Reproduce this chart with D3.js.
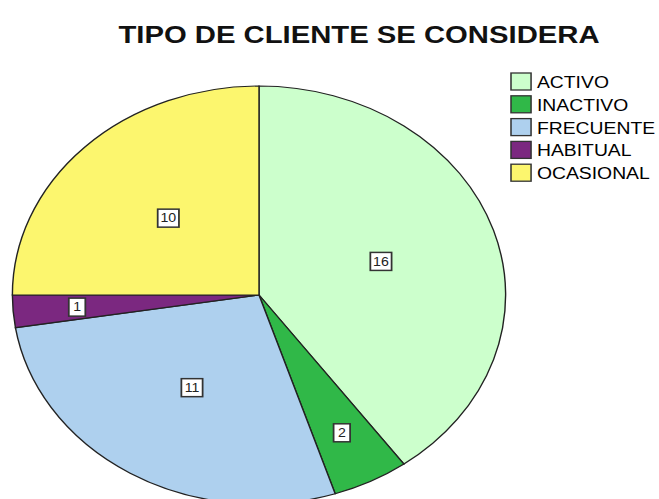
<!DOCTYPE html>
<html>
<head>
<meta charset="utf-8">
<script src="https://cdn.jsdelivr.net/npm/d3@7"></script>
<style>
  body { margin: 0; background: #fff; }
  svg { display: block; font-family: "Liberation Sans", Arial, sans-serif; }
</style>
</head>
<body>
<div id="chart"></div>
<script>
const WIDTH = 659;
const HEIGHT = 499;
// the whole SPSS picture is stretched horizontally
const STRETCH = 1.18;

const categories = ['ACTIVO', 'INACTIVO', 'FRECUENTE', 'HABITUAL', 'OCASIONAL'];
const counts = [16, 2, 11, 1, 10];
const colors = ['#ccffcc', '#30b848', '#aed0ee', '#7b2880', '#fcf66e'];

const data = categories.map((c, i) => ({ key: c, value: counts[i] }));

const svg = d3.select('#chart')
  .append('svg')
  .attr('width', WIDTH)
  .attr('height', HEIGHT);

const root = svg.append('g')
  .attr('transform', `scale(${STRETCH}, 1)`);

root.append('text')
  .attr('x', 359 / STRETCH)
  .attr('y', 43)
  .attr('text-anchor', 'middle')
  .attr('font-size', 24.8)
  .attr('font-weight', 'bold')
  .attr('fill', '#111')
  .text('TIPO DE CLIENTE SE CONSIDERA');

const radius = 209;
const cx = 259 / STRETCH;
const cy = 295;

const pie = d3.pie()
  .value(d => d.value)
  .sort(null);

const arc = d3.arc()
  .innerRadius(0)
  .outerRadius(radius);

const color = d3.scaleOrdinal()
  .domain(categories)
  .range(colors);

const pieGroup = root.append('g')
  .attr('transform', `translate(${cx}, ${cy})`);

const slices = pie(data);

pieGroup.selectAll('path')
  .data(slices)
  .enter()
  .append('path')
  .attr('d', arc)
  .attr('fill', d => color(d.data.key))
  .attr('stroke', '#222')
  .attr('stroke-width', 1.2);

// small slices get their label pushed further out
const labelArc = d => {
  const k = (d.endAngle - d.startAngle) < 0.5 ? 0.74 : 0.52;
  return d3.arc().innerRadius(radius * k).outerRadius(radius * k);
};

const labels = pieGroup.selectAll('g.lbl')
  .data(slices)
  .enter()
  .append('g')
  .attr('class', 'lbl')
  .attr('transform', d => {
    const a = labelArc(d);
    const [x, y] = a.centroid(d);
    return `translate(${x}, ${y})`;
  });

labels.append('rect')
  .attr('x', d => String(d.data.value).length > 1 ? -9 : -7)
  .attr('y', -9)
  .attr('width', d => String(d.data.value).length > 1 ? 18 : 14)
  .attr('height', 18)
  .attr('fill', '#fff')
  .attr('stroke', '#333')
  .attr('stroke-width', 1.5);

labels.append('text')
  .attr('text-anchor', 'middle')
  .attr('dy', '0.36em')
  .attr('font-size', 12)
  .attr('fill', '#222')
  .text(d => d.data.value);

const legend = root.append('g')
  .attr('transform', `translate(${511 / STRETCH}, 73)`);

const legendRows = legend.selectAll('g')
  .data(categories)
  .enter()
  .append('g')
  .attr('transform', (d, i) => `translate(0, ${i * 22.8})`);

legendRows.append('rect')
  .attr('width', 17)
  .attr('height', 17)
  .attr('fill', d => color(d))
  .attr('stroke', '#333')
  .attr('stroke-width', 1.3);

legendRows.append('text')
  .attr('x', 22)
  .attr('y', 15)
  .attr('font-size', 16.4)
  .attr('fill', '#000')
  .text(d => d);
</script>
</body>
</html>
